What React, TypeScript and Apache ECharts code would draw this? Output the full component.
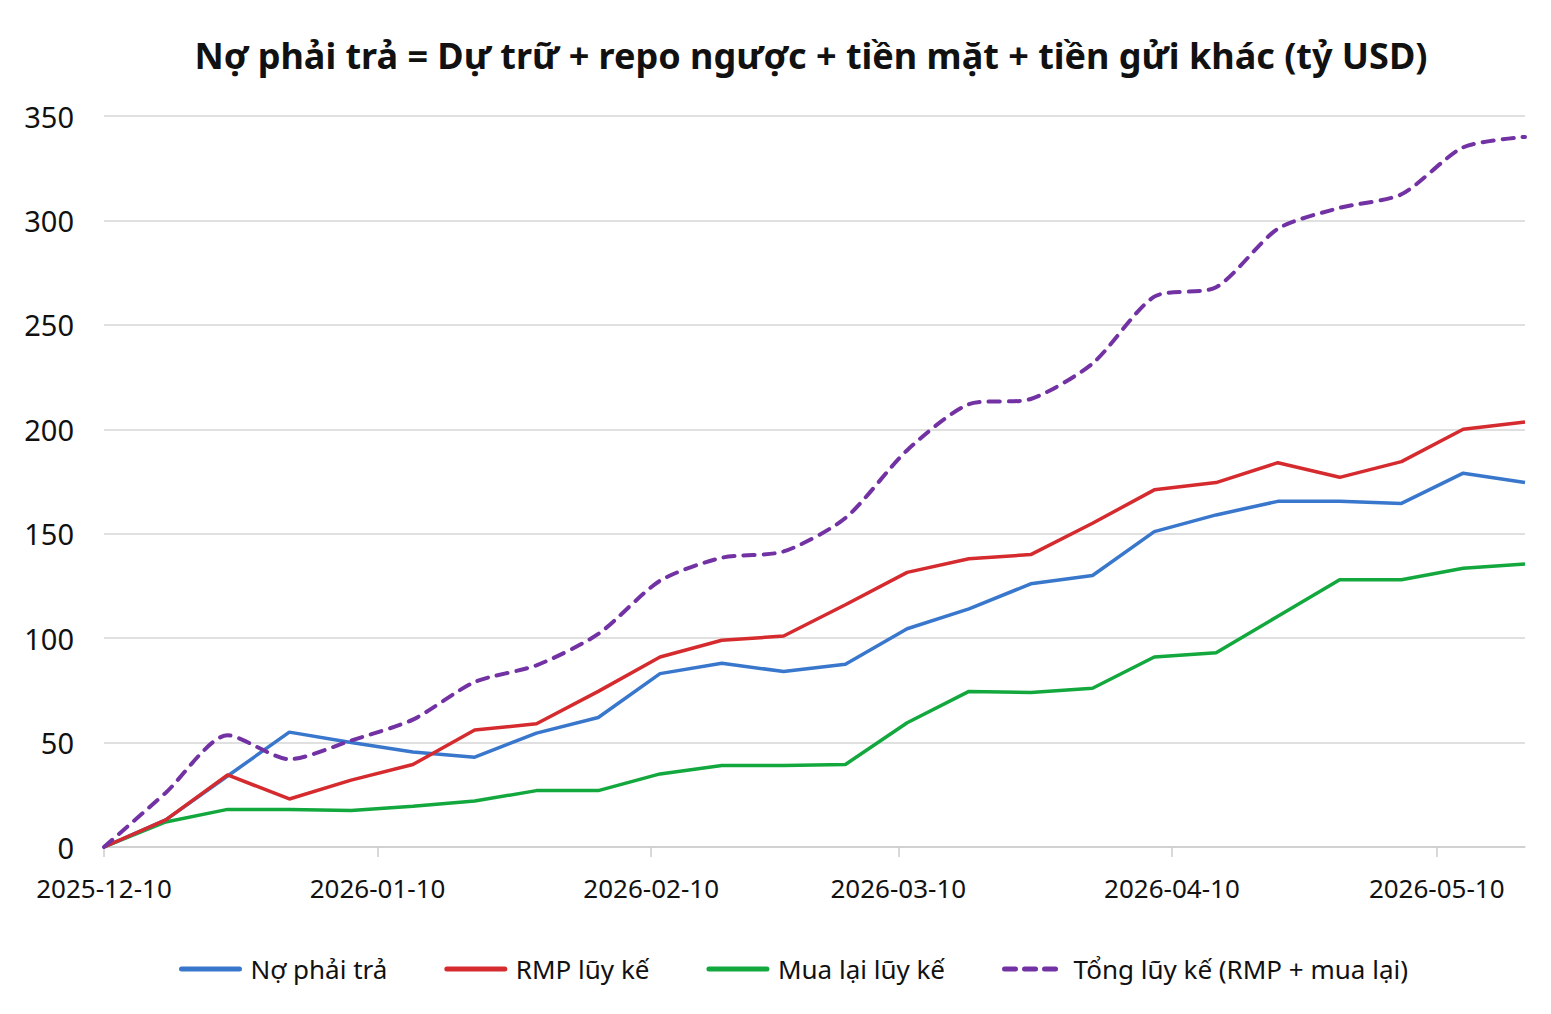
import { useEffect, useRef } from 'react'
import * as echarts from 'echarts'

// Ngày quan sát (thứ Tư hàng tuần)
const dates = [
    '2025-12-10', '2025-12-17', '2025-12-24', '2025-12-31',
    '2026-01-07', '2026-01-14', '2026-01-21', '2026-01-28',
    '2026-02-04', '2026-02-11', '2026-02-18', '2026-02-25',
    '2026-03-04', '2026-03-11', '2026-03-18', '2026-03-25',
    '2026-04-01', '2026-04-08', '2026-04-15', '2026-04-22',
    '2026-04-29', '2026-05-06', '2026-05-13', '2026-05-20'
]

// Mốc nhãn trục X
const tickDates = ['2025-12-10', '2026-01-10', '2026-02-10', '2026-03-10', '2026-04-10', '2026-05-10']

const liabilities = [0, 13, 34, 55, 50, 45.5, 43, 54.5, 62, 83, 88, 84, 87.5, 104.5, 114, 126, 130, 151, 159, 165.5, 165.5, 164.5, 179, 174.5]
const rmpCum = [0, 13, 34.5, 23, 32, 39.5, 56, 59, 74.5, 91, 99, 101, 116, 131.5, 138, 140, 155, 171, 174.5, 184, 177, 184.5, 200, 203.5]
const buybackCum = [0, 12, 18, 18, 17.5, 19.5, 22, 27, 27, 35, 39, 39, 39.5, 59.5, 74.5, 74, 76, 91, 93, 110.5, 128, 128, 133.5, 135.5]
const totalCum = [0, 26, 53.5, 42, 51, 61, 79, 87, 102, 127.5, 138.5, 141.5, 157.5, 190, 212, 214.5, 231.5, 263.5, 268, 296, 306, 312.5, 335, 340]

const yTicks = [0, 50, 100, 150, 200, 250, 300, 350]

const names = ['Nợ phải trả', 'RMP lũy kế', 'Mua lại lũy kế', 'Tổng lũy kế (RMP + mua lại)']

const FONT = '"Noto Sans", "Open Sans", sans-serif'

// số ngày tính từ 2025-12-10
const DAY = 86400000
const ORIGIN = Date.UTC(2025, 11, 10)
function dayOf(s: string) {
    const [y, m, d] = s.split('-').map(Number)
    return Math.round((Date.UTC(y, m - 1, d) - ORIGIN) / DAY)
}

function fmt(v: number) {
    const d = new Date(ORIGIN + Math.round(v) * DAY)
    const p = (n: number) => String(n).padStart(2, '0')
    return `${d.getUTCFullYear()}-${p(d.getUTCMonth() + 1)}-${p(d.getUTCDate())}`
}

const pairs = (vals: number[]) => dates.map((d, i) => [dayOf(d), vals[i]])

export default function App() {
    const chartRef = useRef<HTMLDivElement>(null)

    useEffect(() => {
        if (!chartRef.current) return
        const chart = echarts.init(chartRef.current, null, { renderer: 'svg' })

        chart.setOption({
            animation: false,
            backgroundColor: '#ffffff',
            textStyle: { fontFamily: FONT },
            title: {
                text: 'Nợ phải trả = Dự trữ + repo ngược + tiền mặt + tiền gửi khác (tỷ USD)',
                left: 806,
                textAlign: 'center',
                top: 32,
                textStyle: { fontFamily: FONT, fontSize: 36, fontWeight: 'bold', color: '#111111' }
            },
            legend: {
                data: names,
                left: 174,
                top: 951,
                itemWidth: 58,
                itemHeight: 30,
                itemGap: 57,
                itemStyle: { opacity: 0 },
                lineStyle: { width: 5, cap: 'round' },
                textStyle: { fontFamily: FONT, fontSize: 26, color: '#111111', padding: [0, 0, 0, 6] }
            },
            grid: { left: 104, right: 26, top: 116, bottom: 167, containLabel: false, outerBoundsMode: 'none' },
            xAxis: {
                type: 'value',
                min: 0,
                max: dayOf(dates[dates.length - 1]),
                axisLine: { show: true, lineStyle: { color: '#cccccc', width: 1.5 } },
                axisTick: {
                    show: true,
                    length: 10,
                    customValues: tickDates.map(dayOf),
                    lineStyle: { color: '#cccccc', width: 1.5 }
                },
                axisLabel: {
                    customValues: tickDates.map(dayOf),
                    formatter: (v: number) => fmt(v),
                    fontFamily: FONT,
                    fontSize: 26,
                    color: '#111111',
                    margin: 28
                },
                splitLine: { show: false }
            },
            yAxis: {
                type: 'value',
                min: yTicks[0],
                max: yTicks[yTicks.length - 1],
                interval: 50,
                axisLine: { show: false },
                axisTick: { show: false },
                axisLabel: { fontFamily: FONT, fontSize: 29, color: '#111111', margin: 30 },
                splitLine: { lineStyle: { color: '#d6d6d6', width: 1.5 } }
            },
            series: [
                {
                    name: names[2],
                    type: 'line',
                    data: pairs(buybackCum),
                    symbol: 'none',
                    color: '#13a83e',
                    lineStyle: { width: 3.5, color: '#13a83e' }
                },
                {
                    name: names[0],
                    type: 'line',
                    data: pairs(liabilities),
                    symbol: 'none',
                    color: '#3877cc',
                    lineStyle: { width: 3.5, color: '#3877cc' }
                },
                {
                    name: names[1],
                    type: 'line',
                    data: pairs(rmpCum),
                    symbol: 'none',
                    color: '#d52b2e',
                    lineStyle: { width: 3.5, color: '#d52b2e' }
                },
                {
                    name: names[3],
                    type: 'line',
                    data: pairs(totalCum),
                    symbol: 'none',
                    smooth: 0.25,
                    color: '#7232a3',
                    lineStyle: { width: 4, color: '#7232a3', type: [11, 9], cap: 'round' }
                }
            ]
        })

        const handleResize = () => chart.resize()
        window.addEventListener('resize', handleResize)
        return () => {
            window.removeEventListener('resize', handleResize)
            chart.dispose()
        }
    }, [])

    return (
        <div
            ref={chartRef}
            style={{ position: 'absolute', left: 0, top: 0, width: 1551, height: 1014, background: '#fff' }}
        />
    )
}
